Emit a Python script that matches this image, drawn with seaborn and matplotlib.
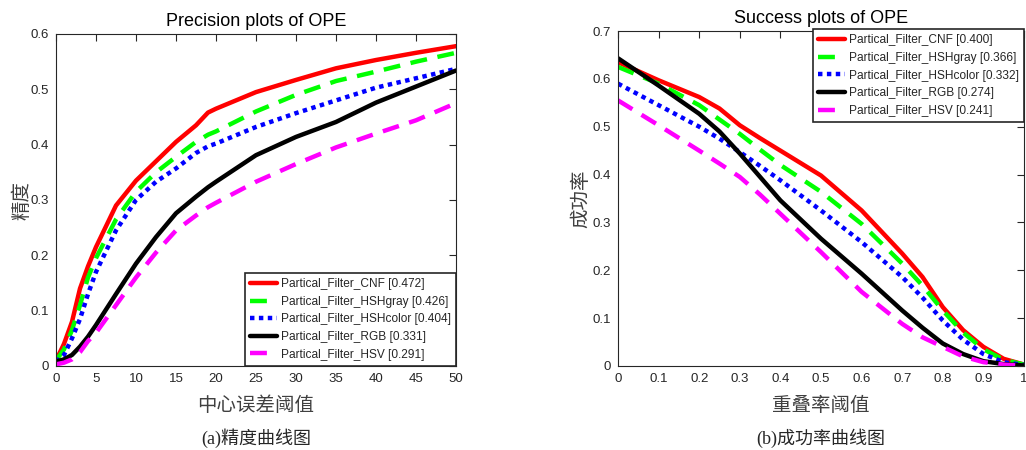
import numpy as np
import pandas as pd
import matplotlib
matplotlib.use("Agg")
import matplotlib.pyplot as plt
import seaborn as sns

# ---------------- data ----------------
prec_x = [0, 1, 2, 3, 4, 5, 7.5, 10, 12.5, 15, 17.5, 19, 20, 25, 30, 35, 40, 45, 50]
prec_cnf = [0.01, 0.04, 0.08, 0.14, 0.18, 0.215, 0.29, 0.335, 0.37, 0.405, 0.435, 0.458, 0.465, 0.495, 0.517, 0.538, 0.553, 0.566, 0.578]
prec_hshgray = [0.01, 0.03, 0.065, 0.11, 0.16, 0.195, 0.265, 0.315, 0.35, 0.378, 0.405, 0.418, 0.424, 0.46, 0.49, 0.515, 0.532, 0.55, 0.566]
prec_hshcolor = [0.008, 0.02, 0.05, 0.085, 0.13, 0.17, 0.245, 0.3, 0.333, 0.357, 0.385, 0.397, 0.402, 0.432, 0.457, 0.48, 0.503, 0.52, 0.537]
prec_rgb = [0.008, 0.012, 0.02, 0.035, 0.053, 0.074, 0.13, 0.185, 0.233, 0.276, 0.306, 0.323, 0.333, 0.381, 0.414, 0.441, 0.476, 0.505, 0.534]
prec_hsv = [0.003, 0.006, 0.012, 0.025, 0.045, 0.06, 0.11, 0.16, 0.205, 0.245, 0.272, 0.287, 0.295, 0.333, 0.365, 0.395, 0.42, 0.444, 0.475]

succ_x = [0, 0.1, 0.2, 0.25, 0.3, 0.35, 0.4, 0.5, 0.6, 0.7, 0.75, 0.8, 0.85, 0.9, 0.95, 1.0]
succ_cnf = [0.635, 0.597, 0.562, 0.538, 0.503, 0.476, 0.45, 0.398, 0.325, 0.235, 0.186, 0.123, 0.075, 0.04, 0.015, 0.003]
succ_hshgray = [0.625, 0.59, 0.545, 0.515, 0.485, 0.452, 0.42, 0.364, 0.297, 0.214, 0.168, 0.116, 0.07, 0.035, 0.013, 0.003]
succ_hshcolor = [0.59, 0.545, 0.5, 0.475, 0.447, 0.418, 0.388, 0.325, 0.259, 0.186, 0.143, 0.095, 0.055, 0.025, 0.008, 0.002]
succ_rgb = [0.643, 0.586, 0.527, 0.49, 0.444, 0.395, 0.346, 0.266, 0.193, 0.116, 0.08, 0.047, 0.025, 0.01, 0.004, 0.001]
succ_hsv = [0.555, 0.503, 0.45, 0.423, 0.395, 0.358, 0.318, 0.238, 0.155, 0.088, 0.06, 0.04, 0.02, 0.008, 0.003, 0.0]

names = ["Partical_Filter_CNF", "Partical_Filter_HSHgray", "Partical_Filter_HSHcolor",
         "Partical_Filter_RGB", "Partical_Filter_HSV"]
prec_scores = ["0.472", "0.426", "0.404", "0.331", "0.291"]
succ_scores = ["0.400", "0.366", "0.332", "0.274", "0.241"]

prec_xticks = [0, 5, 10, 15, 20, 25, 30, 35, 40, 45, 50]
prec_yticks = [0, 0.1, 0.2, 0.3, 0.4, 0.5, 0.6]
succ_xticks = [0, 0.1, 0.2, 0.3, 0.4, 0.5, 0.6, 0.7, 0.8, 0.9, 1]
succ_yticks = [0, 0.1, 0.2, 0.3, 0.4, 0.5, 0.6, 0.7]

# ---------------- style ----------------
sns.set_theme(style="white")
plt.rcParams['font.family'] = ['Liberation Sans', 'Noto Sans CJK SC', 'DejaVu Sans']
plt.rcParams['xtick.direction'] = 'in'
plt.rcParams['ytick.direction'] = 'in'

colors = ["#ff0000", "#00ff00", "#0000ff", "#000000", "#ff00ff"]
styles = ["-", (0, (3.8, 2.4)), (0, (1, 1)), "-", (0, (3.8, 2.4))]
lw = 3.2

fig = plt.figure(figsize=(10.26, 4.5), dpi=100)
ax1 = fig.add_axes([56/1026, 1-366/450, 400/1026, 332/450])
ax2 = fig.add_axes([618/1026, 1-366/450, 406/1026, 335/450])

cjk = ['Noto Sans CJK SC', 'DejaVu Sans']
serif_cjk = ['Liberation Serif', 'Noto Sans CJK SC']

def draw(ax, x, series, scores, xticks, yticks, xlim, ylim, xlabel, ylabel, title, ypad):
    handles = []
    for ys, c, ls, n, s in zip(series, colors, styles, names, scores):
        df = pd.DataFrame({"x": x, "y": ys})
        sns.lineplot(data=df, x="x", y="y", ax=ax, color=c, linewidth=lw,
                     linestyle=ls, label=f"{n} [{s}]", legend=False)
        handles.append(ax.lines[-1])
    ax.set_xlim(*xlim)
    ax.set_ylim(*ylim)
    ax.set_xticks(xticks)
    ax.set_yticks(yticks)
    ax.set_xticklabels([f"{t:g}" for t in xticks])
    ax.set_yticklabels([f"{t:g}" for t in yticks])
    ax.tick_params(axis='both', which='both', direction='in', top=True, right=True,
                   length=5, width=0.8, labelsize=9.5, colors='#262626', pad=5)
    for sp in ax.spines.values():
        sp.set_color('#262626')
        sp.set_linewidth(0.8)
    ax.set_xlabel(xlabel, family=cjk, fontsize=14, color='#404040', labelpad=7.5)
    ax.set_ylabel(ylabel, family=cjk, fontsize=14, color='#404040', labelpad=ypad)
    ax.set_title(title, fontsize=13, color='black', pad=6)
    return handles

h1 = draw(ax1, prec_x, [prec_cnf, prec_hshgray, prec_hshcolor, prec_rgb, prec_hsv], prec_scores,
          prec_xticks, prec_yticks, (0, 50), (0, 0.6), "中心误差阈值", "精度", "Precision plots of OPE", -1.5)
h2 = draw(ax2, succ_x, [succ_cnf, succ_hshgray, succ_hshcolor, succ_rgb, succ_hsv], succ_scores,
          succ_xticks, succ_yticks, (0, 1), (0, 0.7), "重叠率阈值", "成功率", "Success plots of OPE", 1)

leg_kw = dict(fontsize=8.6, frameon=True, fancybox=False, edgecolor='#262626', framealpha=1,
              borderaxespad=0, handlelength=2.25, handletextpad=0.3, labelspacing=0.47,
              borderpad=0.45)
leg1 = ax1.legend(handles=h1, loc='lower right', bbox_to_anchor=(1.0, 0.0), **leg_kw)
leg1.get_frame().set_linewidth(1.2)

leg2 = fig.legend(handles=h2, loc='upper left', bbox_to_anchor=(813/1026, 1-29/450), **leg_kw)
leg2.get_frame().set_linewidth(1.2)

fig.text(256/1026, 1-438/450, "(a)精度曲线图", family=serif_cjk, fontsize=13,
         ha='center', va='center', color='#262626')
fig.text(821/1026, 1-438/450, "(b)成功率曲线图", family=serif_cjk, fontsize=13,
         ha='center', va='center', color='#262626')

fig.savefig("out.png", dpi=100)
